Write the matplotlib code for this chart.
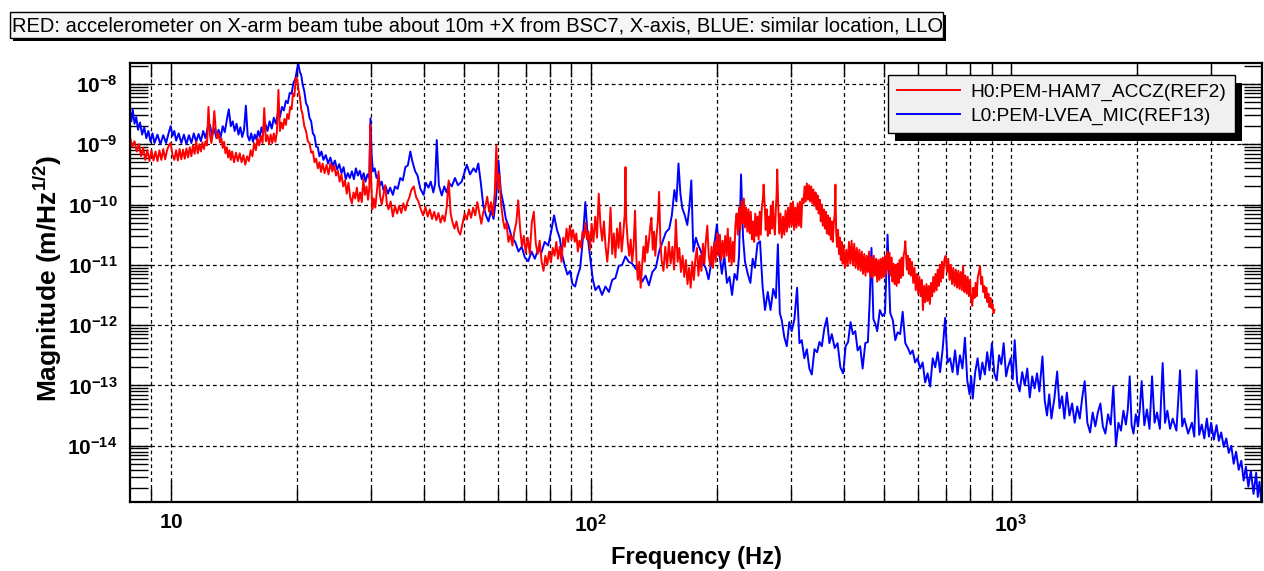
import matplotlib
matplotlib.use("Agg")
import matplotlib.pyplot as plt
import numpy as np
from matplotlib.patches import Rectangle
from matplotlib.transforms import IdentityTransform
from matplotlib.ticker import FixedLocator, NullFormatter

# H0:PEM-HAM7_ACCZ (red): frequency (Hz) and log10 of magnitude
h0_freq = [
    8.0, 8.1, 8.2, 8.3, 8.4, 8.5, 8.6, 8.7, 8.8, 8.9,
    9.0, 9.1, 9.2, 9.3, 9.4, 9.5, 9.6, 9.7, 9.8, 9.9,
    10.0, 10.1, 10.2, 10.3, 10.4, 10.5, 10.6, 10.7, 10.8, 10.9,
    11.0, 11.1, 11.2, 11.3, 11.4, 11.5, 11.6, 11.7, 11.8, 11.9,
    12.0, 12.1, 12.2, 12.3, 12.4, 12.5, 12.6, 12.7, 12.8, 12.9,
    13.0, 13.1, 13.2, 13.3, 13.4, 13.5, 13.6, 13.7, 13.8, 13.9,
    14.0, 14.15, 14.3, 14.45, 14.6, 14.75, 14.9, 15.05, 15.2, 15.35,
    15.5, 15.65, 15.8, 15.95, 16.1, 16.25, 16.4, 16.55, 16.7, 16.85,
    17.0, 17.15, 17.3, 17.45, 17.6, 17.75, 17.9, 18.05, 18.2, 18.35,
    18.5, 18.65, 18.8, 18.95, 19.1, 19.25, 19.4, 19.55, 19.7, 19.85,
    20.0, 20.15, 20.3, 20.45, 20.6, 20.8, 21.0, 21.2, 21.4, 21.6,
    21.8, 22.0, 22.2, 22.4, 22.6, 22.8, 23.0, 23.25, 23.5, 23.75,
    24.0, 24.25, 24.5, 24.75, 25.0, 25.25, 25.5, 25.75, 26.0, 26.25,
    26.5, 26.75, 27.0, 27.25, 27.5, 27.75, 28.0, 28.25, 28.5, 28.75,
    29.0, 29.25, 29.5, 29.7, 29.85, 30.0, 30.2, 30.45, 30.7, 31.0,
    31.25, 31.5, 31.8, 32.1, 32.4, 32.7, 33.0, 33.4, 33.8, 34.2,
    34.6, 35.0, 35.4, 35.8, 36.2, 36.6, 37.0, 37.4, 37.9, 38.4,
    38.9, 39.4, 39.9, 40.4, 40.9, 41.4, 41.9, 42.4, 42.9, 43.4,
    43.9, 44.4, 44.9, 45.4, 45.9, 46.4, 46.9, 47.4, 47.9, 48.4,
    48.9, 49.5, 50.1, 50.7, 51.3, 51.9, 52.5, 53.1, 53.7, 54.3,
    54.9, 55.5, 56.1, 56.7, 57.3, 57.9, 58.5, 59.1, 59.6, 60.1,
    60.6, 61.2, 61.8, 62.4, 63.0, 63.7, 64.4, 65.1, 65.8, 66.5,
    67.2, 67.9, 68.6, 69.3, 70.0, 70.8, 71.6, 72.4, 73.2, 74.0,
    74.8, 75.6, 76.4, 77.2, 78.0, 78.8, 79.6, 80.4, 81.2, 82.0,
    82.8, 83.6, 84.4, 85.2, 86.0, 86.8, 87.6, 88.4, 89.2, 90.0,
    90.8, 91.6, 92.4, 93.2, 94.0, 94.8, 95.6, 96.4, 97.2, 98.0,
    98.8, 99.6, 100.5, 101.5, 102.5, 103.5, 104.5, 105.5, 106.5, 107.5,
    108.5, 109.5, 110.5, 111.5, 112.5, 113.5, 114.5, 115.5, 116.5, 117.5,
    118.5, 119.5, 120.5, 121.0, 121.5, 122.5, 123.5, 124.5, 125.5, 126.5,
    127.5, 128.5, 129.5, 130.5, 131.5, 132.5, 133.5, 134.5, 135.5, 136.5,
    137.5, 138.5, 139.5, 140.5, 141.5, 142.5, 143.5, 144.5, 145.5, 146.5,
    147.5, 149, 150.5, 152, 153.5, 155, 156.5, 158, 159.5, 161,
    162.5, 164, 165.5, 167, 168.5, 170, 171.5, 173, 174.5, 176,
    177.5, 179, 180.5, 182, 183.5, 185, 186.5, 188, 189.5, 191,
    192.5, 194, 195.5, 197, 198.5, 200, 201.5, 203, 204.5, 206,
    207.5, 209, 210.5, 212, 213.5, 215, 216.5, 218, 219.5, 221,
    222.5, 224, 225.5, 227, 228.5, 230, 231.5, 233, 234.5, 236,
    237.5, 239, 240.5, 242, 243.5, 245, 246.5, 248, 249.5, 251,
    252.5, 254, 255.5, 257, 258, 259.5, 261, 262.5, 264, 265.5,
    267, 268.5, 270, 271.5, 273, 274.5, 276, 277, 278, 279.5,
    281, 283, 285, 287, 289, 291, 293, 295, 297, 299,
    301, 303, 305, 307, 309, 311, 313, 315, 317, 319,
    321, 323, 325, 327, 329, 331, 333, 335, 337, 339,
    341, 343, 345, 347, 349, 351, 353, 355, 357, 359,
    361, 363, 365, 367, 369, 371, 373, 375, 377, 379,
    381, 382.5, 384, 386, 388, 390, 392, 394, 396, 398,
    400, 403, 406, 409, 412, 415, 418, 421, 424, 427,
    430, 433, 436, 439, 442, 445, 448, 451, 454, 457,
    460, 463, 466, 469, 472, 475, 478, 481, 484, 487,
    490, 493, 496, 499, 502, 505, 508, 511, 514, 517,
    520, 523, 526, 529, 532, 535, 538, 541, 544, 547,
    550, 553, 556, 559, 561, 563, 566, 569, 572, 575,
    578, 582, 586, 590, 594, 598, 602, 606, 610, 614,
    618, 622, 626, 630, 634, 638, 642, 646, 650, 654,
    658, 662, 666, 670, 674, 678, 682, 686, 690, 695,
    700, 705, 710, 715, 720, 725, 730, 735, 740, 745,
    750, 755, 760, 765, 770, 775, 780, 785, 790, 795,
    800, 805, 810, 815, 820, 825, 830, 835, 840, 845,
    850, 855, 860, 865, 870, 875, 880, 885, 890, 895,
    900, 905, 910, 915,
]
h0_logmag = [
    -8.88, -9.04, -8.95, -9.12, -9.00, -9.20, -9.06, -9.26, -9.10, -9.28,
    -9.10, -9.27, -9.12, -9.28, -9.10, -9.26, -9.08, -9.25, -9.10, -9.02,
    -8.98, -9.18, -9.26, -9.10, -9.27, -9.08, -9.25, -9.09, -9.24, -9.07,
    -9.22, -9.05, -9.20, -9.02, -9.16, -8.95, -9.15, -9.00, -9.12, -8.97,
    -9.08, -8.95, -9.02, -8.38, -8.85, -8.98, -8.80, -8.45, -8.75, -8.90,
    -8.82, -8.97, -8.90, -9.06, -8.96, -9.15, -9.05, -9.22, -9.10, -9.26,
    -9.12, -9.30, -9.14, -9.28, -9.15, -9.30, -9.18, -9.34, -9.20, -9.28,
    -9.10, -9.20, -8.98, -9.10, -8.90, -9.02, -8.86, -8.98, -8.40, -8.95,
    -8.85, -9.00, -8.84, -8.98, -8.82, -8.96, -8.80, -8.10, -8.78, -8.64,
    -8.74, -8.58, -8.68, -8.50, -8.58, -8.38, -8.42, -8.16, -8.20, -7.90,
    -7.92, -8.10, -8.22, -8.42, -8.50, -8.70, -8.78, -8.95, -8.98, -9.14,
    -9.12, -9.30, -9.24, -9.40, -9.30, -9.46, -9.32, -9.48, -9.34, -9.50,
    -9.32, -9.45, -9.35, -9.52, -9.44, -9.62, -9.50, -9.70, -9.60, -9.82,
    -9.64, -9.88, -9.98, -9.80, -9.90, -9.72, -9.95, -9.80, -9.96, -9.58,
    -9.84, -9.70, -9.92, -9.74, -8.67, -9.55, -10.08, -9.90, -10.05, -9.75,
    -9.45, -9.85, -10.00, -9.84, -9.68, -9.98, -10.08, -9.95, -10.20, -10.02,
    -10.15, -10.02, -10.14, -9.98, -10.10, -9.96, -9.88, -9.76, -9.70, -9.88,
    -9.95, -10.08, -10.18, -10.04, -10.20, -10.08, -10.24, -10.12, -10.26, -10.14,
    -10.30, -10.18, -10.28, -10.05, -9.60, -10.15, -10.30, -10.40, -10.28, -10.44,
    -10.50, -10.32, -10.15, -10.25, -10.08, -10.22, -10.05, -10.18, -9.96, -10.14,
    -10.32, -10.12, -10.05, -9.87, -10.12, -9.96, -10.18, -9.80, -9.02, -9.75,
    -9.50, -10.00, -10.25, -10.40, -10.30, -10.62, -10.50, -10.68, -10.45, -10.30,
    -9.93, -10.40, -10.70, -10.52, -10.80, -10.55, -10.82, -10.30, -10.12, -10.65,
    -10.82, -10.60, -10.95, -11.10, -10.85, -11.00, -10.78, -10.96, -10.72, -10.85,
    -10.62, -10.90, -10.70, -10.95, -10.55, -10.70, -10.40, -10.62, -10.35, -10.58,
    -10.42, -10.62, -10.48, -10.78, -10.60, -10.72, -10.45, -10.55, -10.30, -10.58,
    -10.45, -10.75, -10.32, -10.62, -10.20, -10.55, -9.82, -10.35, -10.60, -10.28,
    -10.70, -10.95, -10.60, -10.05, -10.82, -10.48, -10.88, -10.40, -10.72, -10.30,
    -10.78, -10.50, -10.15, -9.38, -10.25, -10.62, -10.85, -10.58, -10.95, -10.70,
    -10.10, -10.92, -11.25, -10.95, -11.38, -11.02, -10.70, -10.95, -10.52, -10.80,
    -10.62, -10.38, -10.22, -10.75, -10.45, -10.85, -10.50, -10.28, -9.79, -10.62,
    -10.92, -11.10, -10.70, -11.05, -10.62, -10.98, -10.70, -11.08, -10.25, -10.95,
    -10.72, -11.12, -10.85, -11.20, -10.92, -11.32, -11.05, -11.38, -10.95, -11.25,
    -10.90, -10.72, -11.18, -10.85, -11.10, -10.65, -10.98, -10.60, -10.35, -10.85,
    -11.02, -10.70, -11.05, -10.62, -10.95, -10.48, -10.85, -10.50, -10.92, -10.60,
    -10.88, -10.52, -10.85, -10.40, -10.95, -10.55, -11.00, -10.62, -10.95, -10.35,
    -10.15, -10.50, -10.05, -10.42, -9.95, -10.32, -9.90, -10.38, -10.05, -10.45,
    -10.08, -10.48, -10.12, -10.58, -10.28, -10.62, -10.15, -10.52, -10.20, -10.58,
    -10.12, -10.50, -10.05, -9.90, -9.67, -10.00, -10.42, -10.08, -10.52, -10.20,
    -10.48, -10.02, -10.40, -9.95, -10.35, -10.50, -10.05, -9.85, -9.42, -10.00,
    -10.48, -10.15, -10.55, -10.20, -10.50, -10.10, -10.45, -10.05, -10.38, -9.98,
    -10.35, -9.95, -10.42, -10.05, -10.38, -9.98, -10.35, -9.95, -10.38, -9.90,
    -9.98, -9.70, -9.95, -9.65, -9.92, -9.68, -9.95, -9.70, -9.98, -9.75,
    -10.02, -9.80, -10.08, -9.85, -10.15, -9.92, -10.28, -10.00, -10.35, -10.08,
    -10.40, -10.12, -10.48, -10.18, -10.50, -10.22, -10.58, -10.28, -10.62, -10.32,
    -10.15, -9.67, -10.45, -10.70, -10.42, -10.82, -10.55, -10.92, -10.62, -10.98,
    -10.68, -11.05, -10.75, -11.02, -10.62, -10.98, -10.60, -11.00, -10.65, -11.05,
    -10.72, -11.08, -10.75, -11.10, -10.78, -11.15, -10.82, -11.18, -10.85, -11.12,
    -10.78, -11.20, -10.88, -11.22, -10.85, -11.18, -10.90, -11.28, -10.92, -11.25,
    -10.90, -11.22, -10.88, -11.20, -10.85, -11.15, -10.78, -11.08, -10.80, -11.18,
    -10.88, -11.28, -10.98, -11.32, -11.00, -11.35, -10.98, -11.30, -10.92, -11.22,
    -10.88, -11.18, -10.85, -10.75, -10.61, -10.80, -11.08, -10.85, -11.15, -10.90,
    -11.18, -10.95, -11.30, -11.05, -11.42, -11.15, -11.48, -11.20, -11.52, -11.25,
    -11.75, -11.35, -11.62, -11.32, -11.60, -11.35, -11.65, -11.30, -11.52, -11.20,
    -11.45, -11.15, -11.42, -11.08, -11.35, -11.00, -11.28, -10.95, -11.22, -10.92,
    -10.85, -11.12, -10.90, -11.25, -11.00, -11.32, -11.05, -11.35, -11.08, -11.38,
    -11.10, -11.40, -11.12, -11.42, -11.02, -11.45, -11.18, -11.48, -11.20, -11.52,
    -11.25, -11.60, -11.68, -11.38, -11.55, -11.30, -11.52, -11.20, -11.12, -11.02,
    -11.32, -11.20, -11.45, -11.35, -11.55, -11.38, -11.62, -11.48, -11.70, -11.55,
    -11.72, -11.65, -11.80, -11.75,
]

# L0:PEM-LVEA_MIC (blue)
l0_freq = [
    8.0, 8.06, 8.12, 8.2, 8.28, 8.36, 8.45, 8.55, 8.65, 8.75,
    8.85, 8.95, 9.05, 9.15, 9.3, 9.45, 9.6, 9.75, 9.9, 10.0,
    10.1, 10.2, 10.3, 10.45, 10.6, 10.75, 10.9, 11.05, 11.2, 11.35,
    11.5, 11.65, 11.8, 11.95, 12.1, 12.25, 12.4, 12.55, 12.7, 12.85,
    13.0, 13.15, 13.3, 13.45, 13.6, 13.75, 13.9, 14.05, 14.2, 14.35,
    14.5, 14.65, 14.8, 14.95, 15.1, 15.25, 15.4, 15.55, 15.7, 15.85,
    16.0, 16.15, 16.3, 16.45, 16.6, 16.8, 17.0, 17.2, 17.4, 17.6,
    17.8, 18.0, 18.2, 18.4, 18.6, 18.8, 19.0, 19.2, 19.4, 19.6,
    19.8, 20.0, 20.15, 20.3, 20.45, 20.6, 20.8, 21.0, 21.2, 21.4,
    21.6, 21.8, 22.0, 22.2, 22.4, 22.6, 22.85, 23.1, 23.4, 23.7,
    24.0, 24.3, 24.6, 24.9, 25.2, 25.5, 25.8, 26.1, 26.4, 26.7,
    27.0, 27.3, 27.6, 27.9, 28.2, 28.5, 28.8, 29.1, 29.4, 29.7,
    29.9, 30.1, 30.3, 30.6, 30.9, 31.2, 31.5, 31.8, 32.1, 32.5,
    32.9, 33.3, 33.8, 34.2, 34.7, 35.2, 35.7, 36.2, 36.7, 37.2,
    37.6, 38.2, 38.7, 39.3, 40.0, 40.5, 41.1, 41.6, 42.2, 42.6,
    43.0, 43.5, 44.2, 44.8, 45.4, 46.0, 46.7, 47.5, 48.3, 49.3,
    50.0, 50.7, 51.6, 52.6, 53.3, 54.0, 54.7, 55.5, 56.3, 57.1,
    57.9, 58.7, 59.5, 60.3, 61.1, 62.0, 62.8, 63.7, 64.9, 66.1,
    67.3, 68.5, 69.7, 71.0, 72.3, 73.6, 75.0, 76.3, 77.7, 79.2,
    80.5, 81.8, 83.1, 84.4, 85.6, 86.8, 88.0, 89.3, 90.5, 91.8,
    93.1, 94.4, 95.7, 97.1, 98.4, 99.8, 101.2, 102.6, 104.5, 106.4,
    108.4, 110.5, 112.5, 114.5, 116.6, 118.8, 121.0, 123.2, 125.5, 127.9,
    130.2, 132.6, 135.1, 137.6, 140.2, 142.9, 145.5, 148.2, 151.0, 153.8,
    156.0, 158.2, 160.0, 161.8, 163.5, 165.2, 167.5, 169.8, 171.7, 173.6,
    175.5, 178, 180, 183, 185.6, 188, 190.8, 193.5, 196, 199.7,
    202.5, 205.2, 208, 211, 214, 217, 220, 223, 225.5, 228,
    230.5, 233, 236.5, 240, 243, 246, 249.5, 253, 256.5, 260,
    264, 268, 272, 276, 279, 282, 285, 289, 293, 297,
    301, 305.5, 310, 314, 318, 322.5, 327, 331.5, 336, 341,
    346, 350.5, 355, 360, 365, 370, 375, 381, 387, 393,
    399, 404.5, 410, 415.5, 421, 426.5, 432, 438, 444, 450.5,
    457, 461.5, 466, 471, 476, 481, 488, 495, 502, 509,
    516.5, 524, 531, 538, 545.5, 553, 561, 569, 576.5, 584,
    592, 600, 608.5, 617, 625.5, 634, 643, 652, 661, 670,
    679, 688.5, 698, 707.5, 717, 727, 737, 747, 757, 767.5,
    778, 788, 798, 805, 812, 823, 834, 845, 856, 867.5,
    879, 890, 902, 914, 926, 938, 950, 962, 975, 985,
    1000, 1011, 1022, 1036, 1050, 1065, 1080, 1095, 1110, 1125,
    1140, 1155, 1170, 1190, 1205, 1220, 1235, 1250, 1270, 1290,
    1307, 1325, 1342, 1360, 1380, 1400, 1420, 1440, 1460, 1480,
    1500, 1522, 1545, 1567, 1590, 1612, 1635, 1657, 1680, 1705,
    1730, 1755, 1780, 1805, 1830, 1855, 1880, 1900, 1920, 1940,
    1960, 1985, 2010, 2030, 2050, 2080, 2110, 2140, 2170, 2200,
    2230, 2265, 2300, 2330, 2360, 2395, 2430, 2480, 2530, 2560,
    2590, 2645, 2700, 2735, 2770, 2810, 2850, 2890, 2930, 2965,
    3000, 3045, 3090, 3130, 3170, 3215, 3260, 3305, 3350, 3395,
    3440, 3490, 3540, 3585, 3630, 3680, 3730, 3785, 3840, 3875,
    3910, 3950, 3990,
]
l0_logmag = [
    -8.45, -8.62, -8.42, -8.66, -8.55, -8.76, -8.64, -8.84, -8.72, -8.90,
    -8.78, -8.96, -8.82, -8.98, -8.84, -9.00, -8.85, -8.98, -8.80, -8.70,
    -8.86, -8.78, -8.94, -8.82, -8.98, -8.84, -9.00, -8.85, -8.98, -8.82,
    -8.96, -8.83, -8.95, -8.78, -8.90, -8.72, -8.68, -8.86, -8.74, -8.90,
    -8.76, -8.88, -8.70, -8.80, -8.60, -8.42, -8.70, -8.62, -8.78, -8.66,
    -8.84, -8.72, -8.88, -8.76, -8.36, -8.86, -8.94, -8.82, -8.96, -8.84,
    -8.92, -8.78, -8.88, -8.72, -8.82, -8.66, -8.78, -8.62, -8.74, -8.56,
    -8.66, -8.48, -8.55, -8.38, -8.44, -8.28, -8.32, -8.15, -8.16, -7.98,
    -7.92, -7.75, -7.68, -7.80, -7.85, -8.00, -8.12, -8.32, -8.38, -8.56,
    -8.62, -8.82, -8.86, -9.04, -9.05, -9.20, -9.12, -9.26, -9.18, -9.32,
    -9.22, -9.36, -9.27, -9.42, -9.33, -9.48, -9.38, -9.58, -9.48, -9.56,
    -9.45, -9.58, -9.40, -9.52, -9.44, -9.58, -9.48, -9.62, -9.50, -9.56,
    -8.57, -9.20, -9.45, -9.40, -9.56, -9.52, -9.68, -9.62, -9.76, -9.70,
    -9.82, -9.72, -9.84, -9.70, -9.74, -9.56, -9.60, -9.38, -9.35, -9.12,
    -9.28, -9.45, -9.52, -9.74, -9.84, -9.64, -9.72, -9.62, -9.80, -9.66,
    -8.93, -9.68, -9.85, -9.70, -9.80, -9.64, -9.70, -9.56, -9.68, -9.62,
    -9.48, -9.34, -9.50, -9.40, -9.46, -9.32, -9.62, -10.02, -10.18, -10.28,
    -10.10, -10.24, -9.90, -9.27, -9.78, -10.00, -10.24, -10.35, -10.55, -10.62,
    -10.78, -10.70, -10.88, -10.94, -10.78, -10.90, -10.74, -10.80, -10.62, -10.68,
    -10.45, -10.18, -10.42, -10.56, -10.85, -11.02, -11.16, -11.10, -11.32, -11.36,
    -11.18, -11.05, -10.60, -9.96, -10.55, -10.90, -11.25, -11.42, -11.35, -11.50,
    -11.36, -11.45, -11.25, -11.22, -11.02, -11.00, -10.86, -10.95, -10.98, -11.06,
    -11.12, -11.28, -11.18, -11.34, -11.12, -11.05, -10.78, -10.62, -10.46, -10.40,
    -10.18, -9.76, -9.95, -9.32, -9.82, -10.06, -10.18, -10.34, -10.05, -9.60,
    -10.78, -10.55, -10.66, -10.78, -10.98, -11.06, -11.24, -10.98, -10.78, -10.33,
    -10.80, -11.15, -10.85, -11.30, -11.20, -11.50, -11.15, -11.25, -10.85, -9.50,
    -10.55, -10.95, -11.15, -11.30, -10.90, -11.05, -10.65, -10.61, -11.35, -11.75,
    -11.45, -11.75, -11.40, -11.55, -10.66, -11.80, -11.92, -12.20, -12.35, -11.95,
    -12.10, -11.90, -11.38, -12.30, -12.25, -12.55, -12.40, -12.72, -12.82, -12.40,
    -12.45, -12.28, -12.35, -12.05, -11.88, -12.30, -12.15, -12.38, -12.30, -12.70,
    -12.80, -12.35, -12.28, -11.95, -12.15, -12.10, -12.42, -12.35, -12.72, -12.30,
    -12.28, -11.60, -10.72, -11.90, -11.98, -12.10, -11.75, -11.85, -11.80, -10.50,
    -11.80, -11.92, -12.25, -12.12, -12.15, -11.78, -12.30, -12.38, -12.48, -12.42,
    -12.62, -12.55, -12.72, -12.62, -12.95, -12.80, -13.02, -12.55, -12.70, -12.45,
    -12.78, -12.40, -11.88, -12.62, -12.55, -12.78, -12.42, -12.82, -12.50, -12.72,
    -12.21, -12.92, -13.15, -12.85, -13.22, -12.78, -12.55, -12.90, -12.62, -12.82,
    -12.45, -12.75, -12.30, -12.80, -12.92, -12.50, -12.65, -12.30, -12.85, -12.70,
    -12.55, -12.90, -12.25, -12.95, -13.10, -12.78, -13.00, -12.72, -13.20, -12.85,
    -13.05, -12.80, -13.10, -12.52, -13.25, -13.50, -13.15, -13.55, -13.22, -12.77,
    -13.38, -13.18, -13.55, -13.12, -13.50, -13.30, -13.62, -13.35, -13.55, -13.20,
    -12.93, -13.62, -13.78, -13.45, -13.68, -13.45, -13.30, -13.68, -13.80, -13.48,
    -13.65, -13.01, -14.00, -13.62, -13.75, -13.42, -13.65, -13.40, -12.85, -13.66,
    -13.80, -13.48, -13.68, -13.38, -12.93, -13.66, -13.40, -13.72, -12.85, -13.62,
    -13.45, -13.72, -12.63, -13.62, -13.42, -13.72, -13.55, -13.75, -12.75, -13.68,
    -13.55, -13.80, -13.62, -13.85, -12.75, -13.82, -13.65, -13.88, -13.55, -13.85,
    -13.62, -13.90, -13.66, -13.92, -13.78, -14.02, -13.88, -14.12, -14.00, -14.30,
    -14.10, -14.40, -14.25, -14.58, -14.35, -14.68, -14.42, -14.80, -14.45, -14.85,
    -14.60, -14.94, -14.80,
]

x_ticks = [10, 100, 1000]
x_tick_labels = [r'$\mathbf{10}$', r'$\mathbf{10^{2}}$', r'$\mathbf{10^{3}}$']
y_ticks = [1e-14, 1e-13, 1e-12, 1e-11, 1e-10, 1e-9, 1e-8]
y_tick_labels = [r'$\mathbf{10^{-%d}}$' % k for k in (14, 13, 12, 11, 10, 9, 8)]

title_text = 'RED: accelerometer on X-arm beam tube about 10m +X from BSC7, X-axis, BLUE: similar location, LLO'
labels = ['H0:PEM-HAM7_ACCZ(REF2)', 'L0:PEM-LVEA_MIC(REF13)']

plt.rcParams['font.family'] = ['Liberation Sans', 'DejaVu Sans']
plt.rcParams['mathtext.fontset'] = 'custom'
plt.rcParams['mathtext.bf'] = 'Liberation Sans:bold'
plt.rcParams['mathtext.rm'] = 'Liberation Sans'

W, H = 1264, 571
fig = plt.figure(figsize=(W / 100, H / 100), dpi=100)
ax = fig.add_axes([130 / W, 1 - 502.3 / H, 1132 / W, 439 / H])

blue, = ax.plot(l0_freq, 10 ** np.array(l0_logmag), color='#0000ff', lw=1.4)
red, = ax.plot(h0_freq, 10 ** np.array(h0_logmag), color='#ff0000', lw=1.4)

ax.set_xscale('log')
ax.set_yscale('log')
ax.set_xlim(8.0, 3965)
ax.set_ylim(1.15e-15, 2.2e-8)

ax.xaxis.set_major_locator(FixedLocator(x_ticks))
ax.set_xticklabels(x_tick_labels, fontsize=15)
ax.xaxis.set_minor_locator(FixedLocator([9] + [m * d for d in (10, 100, 1000) for m in range(2, 10)]))
ax.xaxis.set_minor_formatter(NullFormatter())
ax.yaxis.set_major_locator(FixedLocator(y_ticks))
ax.set_yticklabels(y_tick_labels, fontsize=15)
ax.yaxis.set_minor_locator(FixedLocator([m * 10.0 ** e for e in range(-15, -7) for m in range(2, 10)]))
ax.yaxis.set_minor_formatter(NullFormatter())

ax.tick_params(axis='both', which='both', direction='in', top=True, right=True, width=1, color='k')
ax.tick_params(axis='x', which='major', length=16, pad=8)
ax.tick_params(axis='x', which='minor', length=10)
ax.tick_params(axis='y', which='major', length=15, pad=9)
ax.tick_params(axis='y', which='minor', length=13)
for s in ax.spines.values():
    s.set_linewidth(1.6)

grid_style = dict(color='k', lw=0.9, ls=(0, (3, 2.5)))
ax.grid(True, which='major', axis='both', **grid_style)
ax.grid(True, which='minor', axis='x', **grid_style)

ax.set_xlabel('Frequency (Hz)', fontsize=17, fontweight='bold')
ax.xaxis.set_label_coords(0.5, -0.1)
ax.set_ylabel(r'Magnitude (m/Hz$^{\mathbf{1/2}}$)', fontsize=19, fontweight='bold')
ax.yaxis.set_label_coords(-0.058, 0.51)

leg = ax.legend([red, blue], labels, loc='upper left', bbox_to_anchor=(888 / W, 1 - 75 / H),
                bbox_transform=fig.transFigure, fontsize=13.8, frameon=True, fancybox=False,
                framealpha=1, facecolor='#f0f0f0', edgecolor='k', borderpad=0.45,
                handlelength=3.3, handletextpad=0.55, labelspacing=0.3, borderaxespad=0)
leg.get_frame().set_linewidth(1)
leg.set_zorder(6)

# title box with its shadow
fig.add_artist(Rectangle((13 / W, 1 - 41 / H), 933 / W, 26 / H, transform=fig.transFigure,
                         fc='k', ec='none', zorder=1))
fig.add_artist(Rectangle((10 / W, 1 - 38 / H), 933 / W, 26 / H, transform=fig.transFigure,
                         fc='#f6f6f6', ec='k', lw=1, zorder=2))
fig.text(12 / W, 1 - 25.5 / H, title_text, ha='left', va='center', fontsize=14.5, zorder=3)

# legend shadow
fig.canvas.draw()
bb = leg.get_window_extent()
ax.add_artist(Rectangle((bb.x0 + 7, bb.y0 - 8), bb.width, bb.height, transform=IdentityTransform(),
                        fc='k', ec='none', zorder=5.9, clip_on=False))

fig.savefig('out.png', dpi=100)
